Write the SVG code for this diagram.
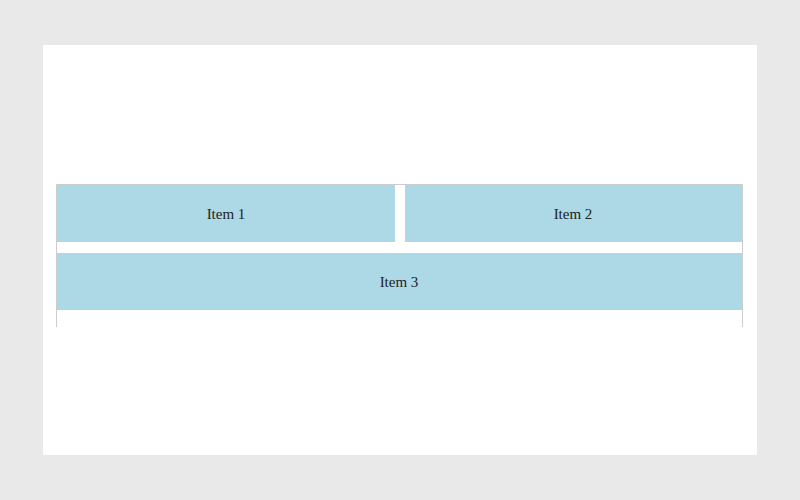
<svg xmlns="http://www.w3.org/2000/svg" width="800" height="500" viewBox="0 0 800 500">
<style>.item{fill:#add8e6}.t{font-family:"Liberation Serif",serif;font-size:15px;fill:#222;text-anchor:middle}</style>
<rect width="800" height="500" fill="#e9e9e9"/>
<rect x="43" y="45" width="714" height="410" fill="#fff"/>
<g id="connectors"><path d="M56.5 327V184.5H742.5V327" fill="none" stroke="#ccc"/></g>
<g id="item1"><rect class="item" x="57" y="185" width="338" height="57"/><text class="t" x="226" y="219">Item 1</text></g>
<g id="item2"><rect class="item" x="405" y="185" width="337" height="57"/><text class="t" x="573" y="219">Item 2</text></g>
<g id="item3"><rect class="item" x="57" y="253" width="685" height="57"/><text class="t" x="399" y="287">Item 3</text></g>
</svg>
